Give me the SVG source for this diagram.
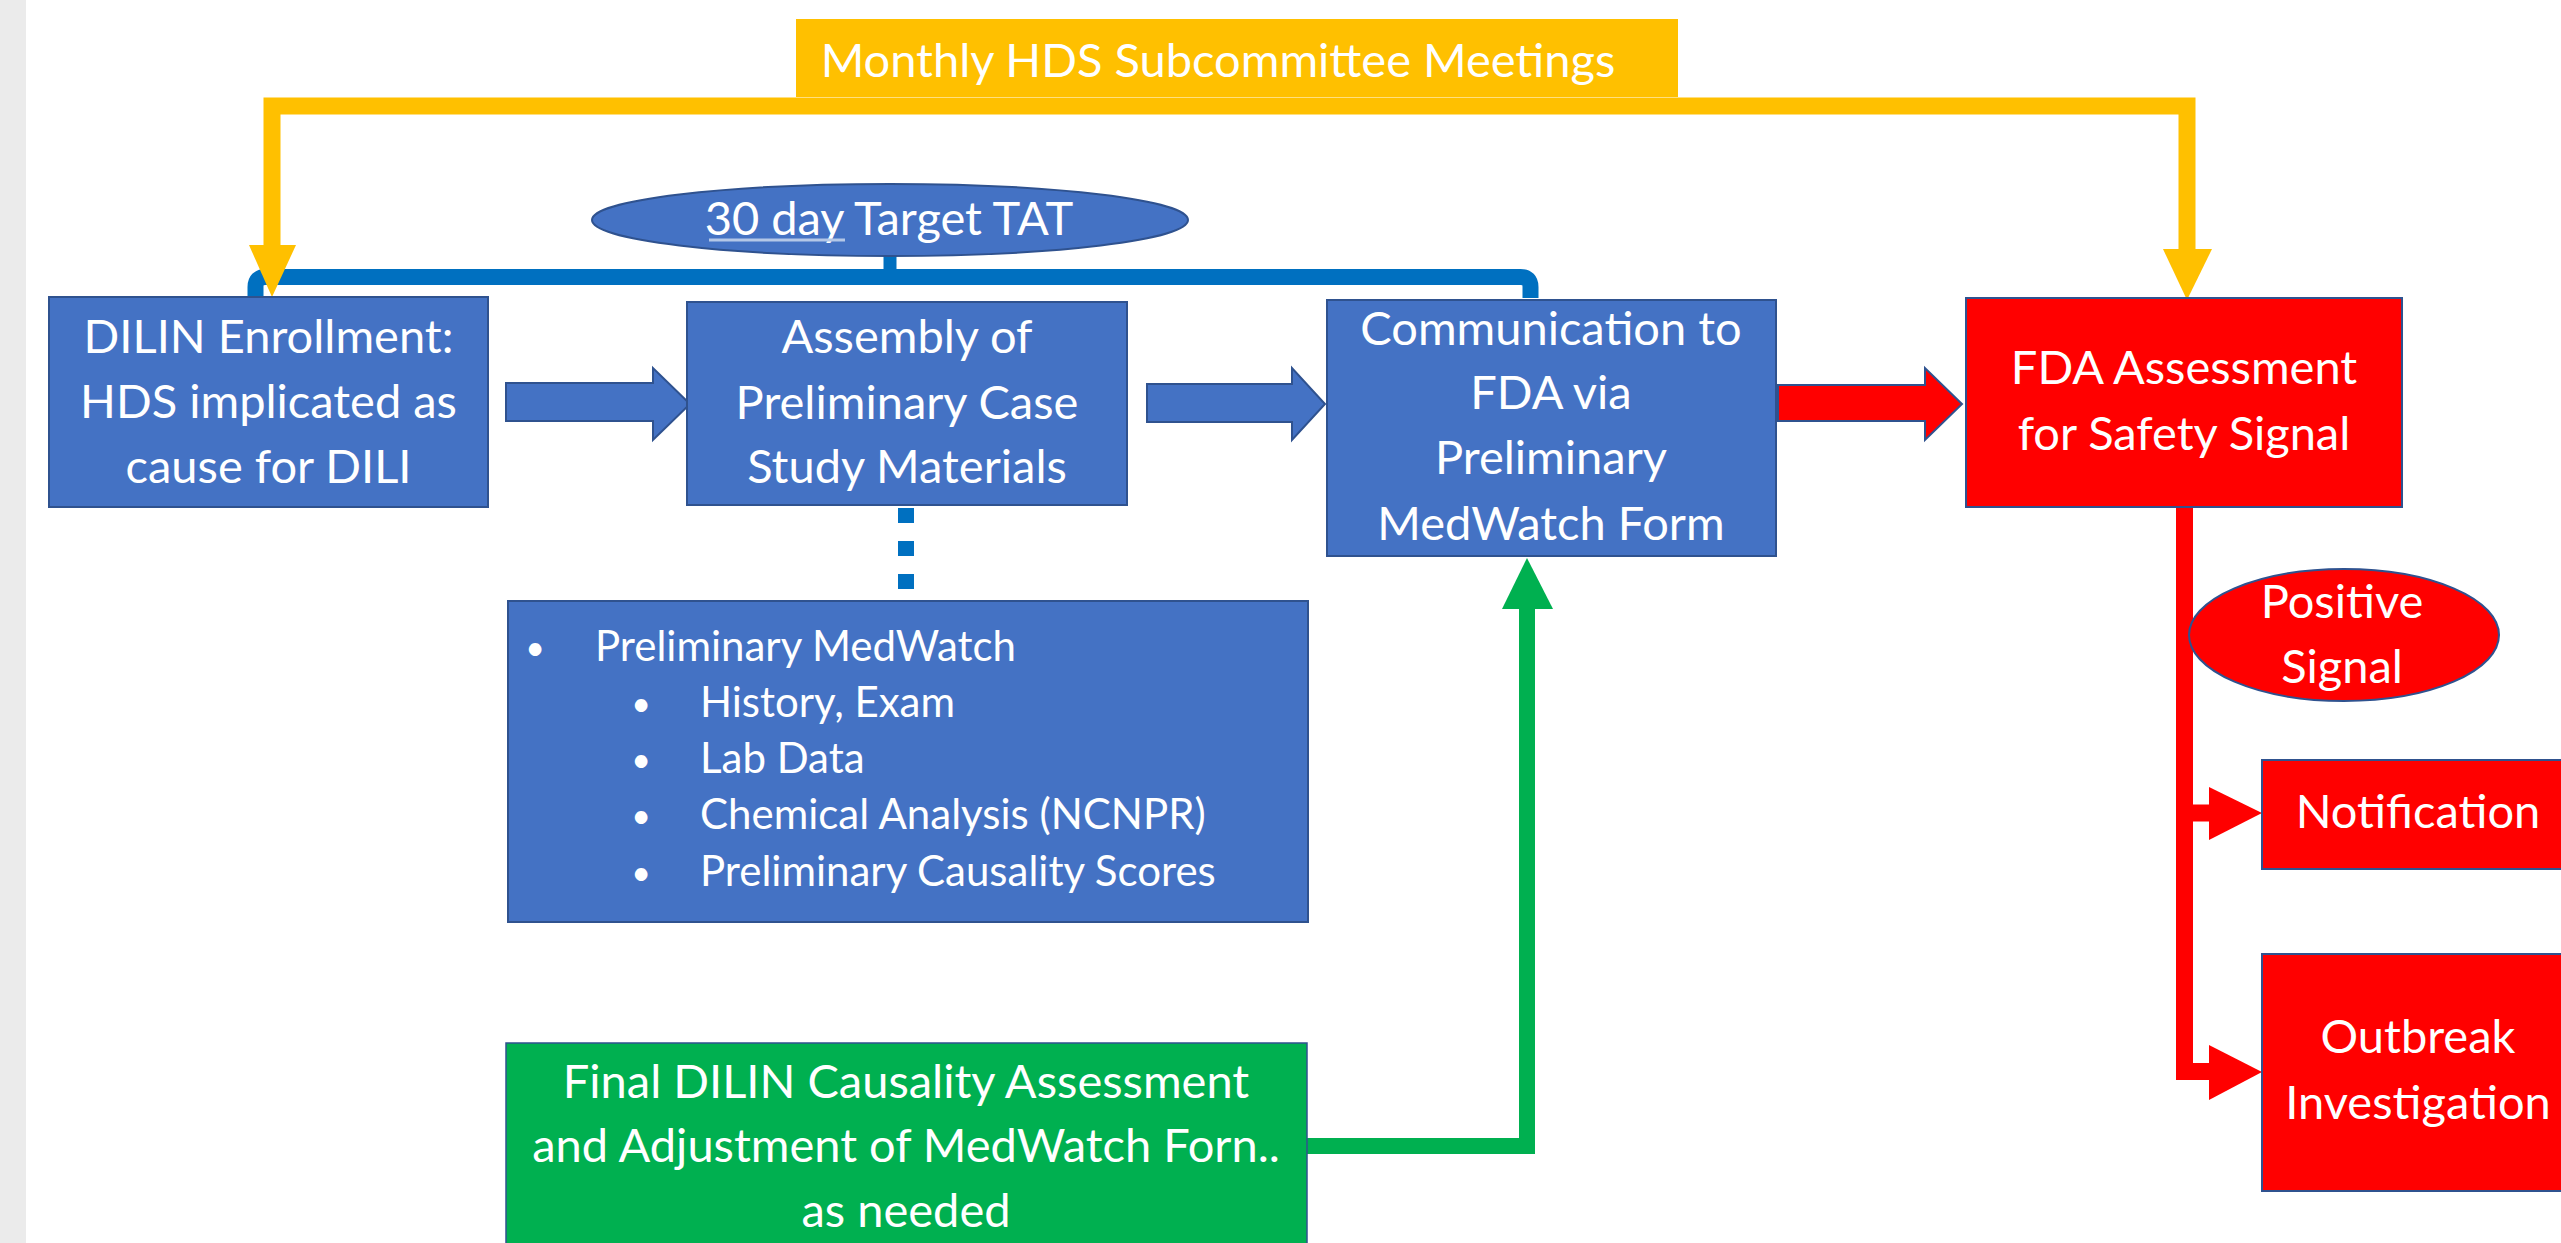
<svg xmlns="http://www.w3.org/2000/svg" width="2561" height="1243" viewBox="0 0 2561 1243">
<style>
text{font-family:Lato,"Open Sans","Liberation Sans",sans-serif;fill:#fff;}
.t{font-size:47px;text-anchor:middle;}
.b{font-size:42px;}
.bd{font-size:34px;text-anchor:middle;}
.blue{fill:#4472C4;stroke:#2F528F;stroke-width:2;}
.red{fill:#FF0000;stroke:#2F528F;stroke-width:2;}
.green{fill:#00B050;stroke:#2F528F;stroke-width:1.5;}
</style>
<rect x="0" y="0" width="2561" height="1243" fill="#fff"/>
<rect x="0" y="0" width="26" height="1243" fill="#EBEBEB"/>

<g id="connectors">
  <!-- yellow meeting loop -->
  <path d="M272 250 V106 H2187 V252" fill="none" stroke="#FFC000" stroke-width="17"/>
  <!-- blue TAT bracket -->
  <path d="M255.5 297 V287 Q255.5 277 265.5 277 H1520.5 Q1530.5 277 1530.5 287 V298" fill="none" stroke="#0070C0" stroke-width="16"/>
  <line x1="890" y1="255" x2="890" y2="278" stroke="#0070C0" stroke-width="13"/>
  <polygon points="249,245 296,245 272,297" fill="#FFC000"/>
  <polygon points="2163,249 2212,249 2187,300" fill="#FFC000"/>
  <!-- dotted link to details -->
  <line x1="906" y1="508" x2="906" y2="600" stroke="#0070C0" stroke-width="16" stroke-dasharray="15 18"/>
  <!-- block arrows -->
  <polygon class="blue" stroke-width="1.5" points="506,383 653,383 653,368 690,404 653,440 653,421 506,421"/>
  <polygon class="blue" stroke-width="1.5" points="1147,384 1292,384 1292,368 1325,404 1292,440 1292,422 1147,422"/>
  <polygon class="red" stroke-width="1.5" points="1778,385 1925,385 1925,368 1962,404 1925,440 1925,421 1778,421"/>
  <!-- green feedback -->
  <path d="M1307 1146 H1527 V605" fill="none" stroke="#00B050" stroke-width="16"/>
  <polygon points="1502,609 1553,609 1527,558" fill="#00B050"/>
  <!-- red branches -->
  <path d="M2184.5 507 V1071.5 H2212 M2184.5 813 H2212" fill="none" stroke="#FF0000" stroke-width="17"/>
  <polygon points="2209,787 2262,813 2209,840" fill="#FF0000"/>
  <polygon points="2209,1045 2262,1072 2209,1100" fill="#FF0000"/>
</g>

<g id="meetings">
  <rect x="796" y="19" width="882" height="78" fill="#FFC000"/>
  <text class="t" x="1218" y="77">Monthly HDS Subcommittee Meetings</text>
</g>

<g id="tat">
  <ellipse cx="890" cy="220" rx="298" ry="36" class="blue"/>
  <text class="t" x="889" y="235">30 day Target TAT</text>
  <line x1="709" y1="240" x2="845" y2="240" stroke="#B4C7E7" stroke-width="3"/>
</g>

<g id="enrollment">
  <rect x="49" y="297" width="439" height="210" class="blue"/>
  <text class="t" x="268.5" y="353">DILIN Enrollment:</text>
  <text class="t" x="268.5" y="418">HDS implicated as</text>
  <text class="t" x="268.5" y="483">cause for DILI</text>
</g>

<g id="assembly">
  <rect x="687" y="302" width="440" height="203" class="blue"/>
  <text class="t" x="907" y="353">Assembly of</text>
  <text class="t" x="907" y="419">Preliminary Case</text>
  <text class="t" x="907" y="483">Study Materials</text>
</g>

<g id="communication">
  <rect x="1327" y="300" width="449" height="256" class="blue"/>
  <text class="t" x="1551" y="345">Communication to</text>
  <text class="t" x="1551" y="409">FDA via</text>
  <text class="t" x="1551" y="474">Preliminary</text>
  <text class="t" x="1551" y="540">MedWatch Form</text>
</g>

<g id="fda">
  <rect x="1966" y="298" width="436" height="209" class="red"/>
  <text class="t" x="2184" y="384">FDA Assessment</text>
  <text class="t" x="2184" y="450">for Safety Signal</text>
</g>

<g id="details">
  <rect x="508" y="601" width="800" height="321" class="blue"/>
  <text class="bd" x="535" y="660">•</text>
  <text class="b" x="595" y="661">Preliminary MedWatch</text>
  <text class="bd" x="641" y="716">•</text>
  <text class="b" x="700" y="717">History, Exam</text>
  <text class="bd" x="641" y="772">•</text>
  <text class="b" x="700" y="773">Lab Data</text>
  <text class="bd" x="641" y="828">•</text>
  <text class="b" x="700" y="829">Chemical Analysis (NCNPR)</text>
  <text class="bd" x="641" y="885">•</text>
  <text class="b" x="700" y="886">Preliminary Causality Scores</text>
</g>

<g id="final">
  <rect x="506" y="1043" width="801" height="215" class="green"/>
  <text class="t" x="906" y="1098">Final DILIN Causality Assessment</text>
  <text class="t" x="906" y="1162">and Adjustment of MedWatch Forn..</text>
  <text class="t" x="906" y="1227">as needed</text>
</g>

<g id="positive">
  <ellipse cx="2344" cy="635" rx="155" ry="66" class="red"/>
  <text class="t" x="2342" y="618">Positive</text>
  <text class="t" x="2342" y="683">Signal</text>
</g>

<g id="notification">
  <rect x="2262" y="760" width="312" height="109" class="red"/>
  <text class="t" x="2418" y="828">Notification</text>
</g>

<g id="outbreak">
  <rect x="2262" y="954" width="312" height="237" class="red"/>
  <text class="t" x="2418" y="1053">Outbreak</text>
  <text class="t" x="2418" y="1119">Investigation</text>
</g>
</svg>
